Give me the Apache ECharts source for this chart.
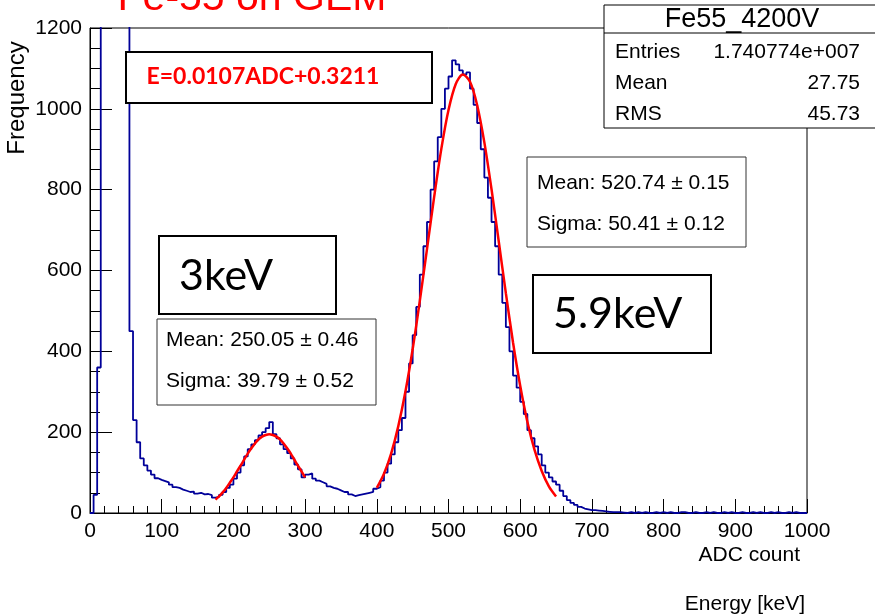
<!DOCTYPE html>
<html>
<head>
<meta charset="utf-8">
<script src="https://cdn.jsdelivr.net/npm/echarts@6/dist/echarts.min.js"></script>
<style>
  html, body { margin: 0; padding: 0; background: #fff; }
  #main { width: 875px; height: 616px; }
</style>
</head>
<body>
<div id="main"></div>
<script>
// histogram, 5 ADC per bin, value of bin starting at histStart + i*binWidth
var binWidth = 5;
var histStart = 0;
var histValues = [
  0, 45, 360, 5000, 5000, 5000, 5000, 5000, 5000, 5000, 5000,       // 0 - 50
  450, 230, 175, 135, 118, 105, 95, 86, 82,                           // 55 - 95
  79, 76, 70, 64, 62, 58, 55, 52, 53, 48,                             // 100 - 145
  50, 46, 47, 44, 38, 40, 45, 52, 62, 70,                             // 150 - 195
  85, 100, 118, 140, 158, 170, 180, 192, 200, 210,                    // 200 - 245
  225, 195, 185, 170, 158, 148, 135, 120, 108, 88,                    // 250 - 295
  95, 98, 85, 80, 76, 72, 66, 62, 60, 56,                             // 300 - 345
  52, 52, 46, 42, 44, 46, 48, 50, 52, 60,                             // 350 - 395
  64, 80, 100, 122, 145, 175, 205, 235, 300, 370,                     // 400 - 445
  440, 510, 590, 660, 720, 800, 870, 930, 1000, 1050,                 // 450 - 495
  1080, 1120, 1110, 1095, 1085, 1090, 1050, 1010, 965, 900,           // 500 - 545
  830, 780, 720, 660, 590, 520, 460, 400, 340, 310,                   // 550 - 595
  275, 245, 205, 185, 165, 145, 118, 100, 88, 78,                     // 600 - 645
  70, 55, 42, 32, 25, 20, 15, 11, 9, 7,                               // 650 - 695
  7, 6, 5, 4, 3, 2                                                    // 700 - 725
];
// sparse tail 730 - 995
var tailValues = [
  2, 2, 1, 0, 2, 0, 2, 0, 2, 0,
  0, 2, 0, 2, 0, 2, 0, 0, 2, 2,
  0, 0, 2, 0, 0, 2, 0, 2, 0, 0,
  2, 0, 2, 0, 0, 2, 0, 0, 2, 0,
  2, 0, 0, 2, 0, 2, 0, 0, 2, 0,
  2, 0, 0, 0
];

// gaussian fits (red)
var fit1X = [175, 180, 185, 190, 195, 200, 205, 210, 215, 220, 225, 230, 235, 240, 245, 250, 255, 260, 265, 270, 275, 280, 285, 290, 295, 300];
var fit1Y = [33, 41, 51, 62, 75, 88, 103, 117, 132, 147, 160, 172, 182, 189, 193, 195, 193, 189, 182, 172, 160, 147, 132, 117, 103, 88];
var fit2X = [400, 410, 420, 430, 440, 450, 460, 470, 480, 490, 500, 510, 520, 530, 540, 550, 560, 570, 580, 590, 600, 610, 620, 630, 640, 650];
var fit2Y = [62, 97, 147, 215, 301, 405, 525, 653, 782, 901, 997, 1061, 1085, 1067, 1009, 917, 801, 673, 544, 422, 315, 226, 156, 104, 66, 41];

var statsRows = [['Entries', '1.740774e+007'], ['Mean', '27.75'], ['RMS', '45.73']];

var allHist = histValues.concat(tailValues);
var histData = [];
for (var i = 0; i < allHist.length; i++) {
  histData.push([histStart + i * binWidth, allHist[i]]);
}
histData.push([histStart + allHist.length * binWidth, allHist[allHist.length - 1]]);

function pairs(xs, ys) {
  var out = [];
  for (var i = 0; i < xs.length; i++) out.push([xs[i], ys[i]]);
  return out;
}

var FONT = '"Liberation Sans", Arial, sans-serif';
var PPT = 'Lato, "Liberation Sans", sans-serif';

function txt(x, y, s, size, opts) {
  opts = opts || {};
  return {
    type: 'text', z: 110,
    x: x, y: y,
    rotation: opts.rotation || 0,
    style: {
      text: s, x: 0, y: 0,
      fill: opts.color || '#000',
      font: (opts.weight || 'normal') + ' ' + size + 'px ' + (opts.family || FONT),
      textAlign: opts.align || 'left', align: opts.align || 'left',
      textVerticalAlign: 'middle', verticalAlign: 'middle'
    }
  };
}
function box(x, y, w, h, lw, stroke) {
  return {
    type: 'rect', z: 100,
    shape: { x: x, y: y, width: w, height: h },
    style: { fill: '#fff', stroke: stroke || '#000', lineWidth: lw || 1 }
  };
}

var graphics = [
  txt(252, -1, 'Fe-55 on GEM', 41, { color: '#ff0000', align: 'center' }),
  txt(17, 98, 'Frequency', 24, { align: 'center', rotation: Math.PI / 2 }),
  txt(800, 555, 'ADC count', 21, { align: 'right' }),
  txt(805, 604, 'Energy [keV]', 21, { align: 'right' }),

  box(126, 52, 306, 51, 2),
  txt(263, 77, 'E=0.0107ADC+0.3211', 23, { color: '#ff0000', weight: 'bold', align: 'center', family: PPT }),

  box(159, 236, 177, 78, 2),
  txt(179, 276, '3keV', 43, { family: PPT }),
  box(533, 275, 178, 78, 2),
  txt(553, 314, '5.9keV', 43, { family: PPT }),

  box(157, 319, 219, 86, 1, '#333'),
  txt(166, 340, 'Mean: 250.05 \u00b1 0.46', 21),
  txt(166, 381, 'Sigma: 39.79 \u00b1 0.52', 21),
  box(527, 157, 219, 90, 1, '#333'),
  txt(537, 183, 'Mean: 520.74 \u00b1 0.15', 21),
  txt(537, 224, 'Sigma: 50.41 \u00b1 0.12', 21),

  box(604, 5, 290, 123, 1),
  { type: 'line', z: 105, shape: { x1: 604, y1: 33, x2: 875, y2: 33 }, style: { stroke: '#000', lineWidth: 1 } },
  txt(742, 20, 'Fe55_4200V', 27, { align: 'center' })
];
for (var r = 0; r < statsRows.length; r++) {
  graphics.push(txt(615, 52 + r * 31, statsRows[r][0], 21));
  graphics.push(txt(860, 52 + r * 31, statsRows[r][1], 21, { align: 'right' }));
}

var myChart = echarts.init(document.getElementById('main'));
var option = {
  animation: false,
  backgroundColor: '#fff',
  grid: {
    left: 90, right: 68, top: 28, bottom: 103,
    show: true, borderColor: '#000', borderWidth: 1, backgroundColor: 'transparent'
  },
  xAxis: {
    type: 'value', min: 0, max: 1000, interval: 100,
    axisLine: { lineStyle: { color: '#000', width: 1 } },
    axisTick: { inside: true, length: 14, lineStyle: { color: '#000' } },
    minorTick: { show: true, splitNumber: 5, length: 7, lineStyle: { color: '#000' } },
    splitLine: { show: false },
    axisLabel: { color: '#000', fontSize: 21, fontFamily: FONT, margin: 8,
      formatter: function (v) { return String(v); } }
  },
  yAxis: {
    type: 'value', min: 0, max: 1200, interval: 200,
    axisLine: { show: true, lineStyle: { color: '#000', width: 1 } },
    axisTick: { show: true, inside: true, length: 22, lineStyle: { color: '#000' } },
    minorTick: { show: true, splitNumber: 4, length: 10, lineStyle: { color: '#000' } },
    splitLine: { show: false },
    axisLabel: { color: '#000', fontSize: 21, fontFamily: FONT, margin: 8,
      formatter: function (v) { return String(v); } }
  },
  series: [
    {
      name: 'Fe55_4200V', type: 'line', step: 'end', data: histData,
      symbol: 'none', clip: true,
      lineStyle: { color: '#000099', width: 1.8 }
    },
    {
      name: 'fit1', type: 'line', data: pairs(fit1X, fit1Y), smooth: 0.3,
      symbol: 'none', lineStyle: { color: '#ff0000', width: 2.5 }, z: 3
    },
    {
      name: 'fit2', type: 'line', data: pairs(fit2X, fit2Y), smooth: 0.3,
      symbol: 'none', lineStyle: { color: '#ff0000', width: 2.5 }, z: 3
    }
  ],
  graphic: graphics
};
myChart.setOption(option);
</script>
</body>
</html>
